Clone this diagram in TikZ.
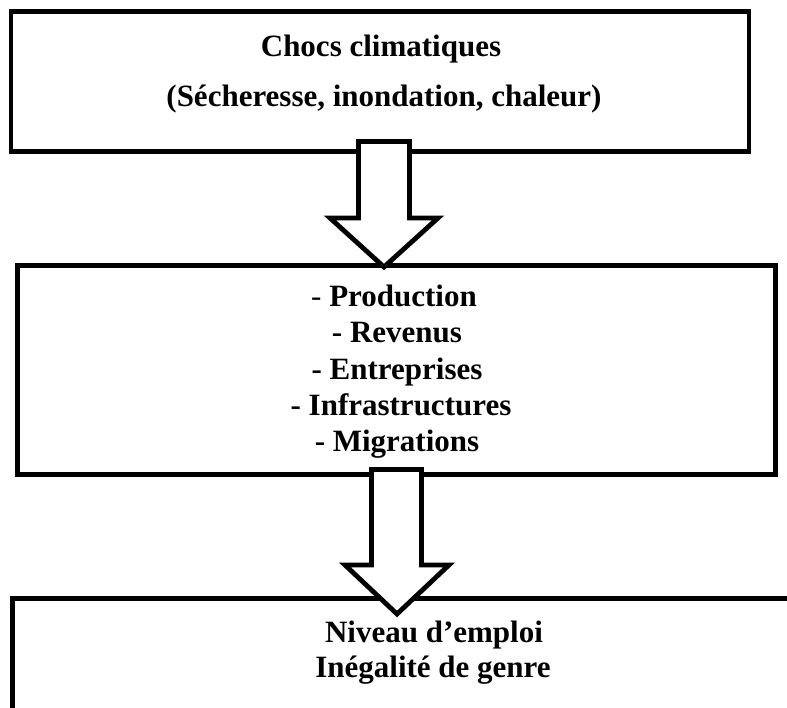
\documentclass[tikz,border=0pt]{standalone}
\usepackage{fontspec}
\setmainfont{Liberation Serif}
\begin{document}
\begin{tikzpicture}[x=1pt,y=-1pt,
  boxstyle/.style={draw=black,line width=4.8pt,fill=white,inner sep=0pt,outer sep=0pt,line join=miter},
  barrow/.style={draw=black,line width=4.8pt,fill=white,line join=miter},
  txt/.style={inner sep=0pt,anchor=base,font=\fontsize{31}{36}\selectfont\bfseries}]
\clip (0,0) rectangle (787,708);
\fill[white] (0,0) rectangle (787,708);
% boxes
\node[boxstyle,minimum width=738pt,minimum height=140pt] (b1) at (380,81.5) {};
\node[boxstyle,minimum width=758pt,minimum height=209pt] (b2) at (396.5,370) {};
\node[boxstyle,minimum width=842pt,minimum height=200pt] (b3) at (433.5,698.5) {};
% texts
\node[txt] (t1a) at (381,57) {Chocs climatiques};
\node[txt] (t1b) at (384,107) {(Sécheresse, inondation, chaleur)};
\node[txt] (t2a) at (394,306.7) {{\mdseries -} Production};
\node[txt] (t2b) at (397,342.9) {- Revenus};
\node[txt] (t2c) at (397,379.1) {- Entreprises};
\node[txt] (t2d) at (401,415.3) {- Infrastructures};
\node[txt] (t2e) at (397,451.5) {- Migrations};
\node[txt] (t3a) at (434,642) {Niveau d’emploi};
\node[txt] (t3b) at (433,677) {Inégalité de genre};
% block arrows
\draw[barrow] (358.5,141.5) -- (409.5,141.5) -- (409.5,218) -- (438,218) -- (384,267)
  -- (330,218) -- (358.5,218) -- cycle;
\draw[barrow] (371.5,469.5) -- (421.5,469.5) -- (421.5,565) -- (449,565) -- (397,614)
  -- (345,565) -- (371.5,565) -- cycle;
\end{tikzpicture}
\end{document}
